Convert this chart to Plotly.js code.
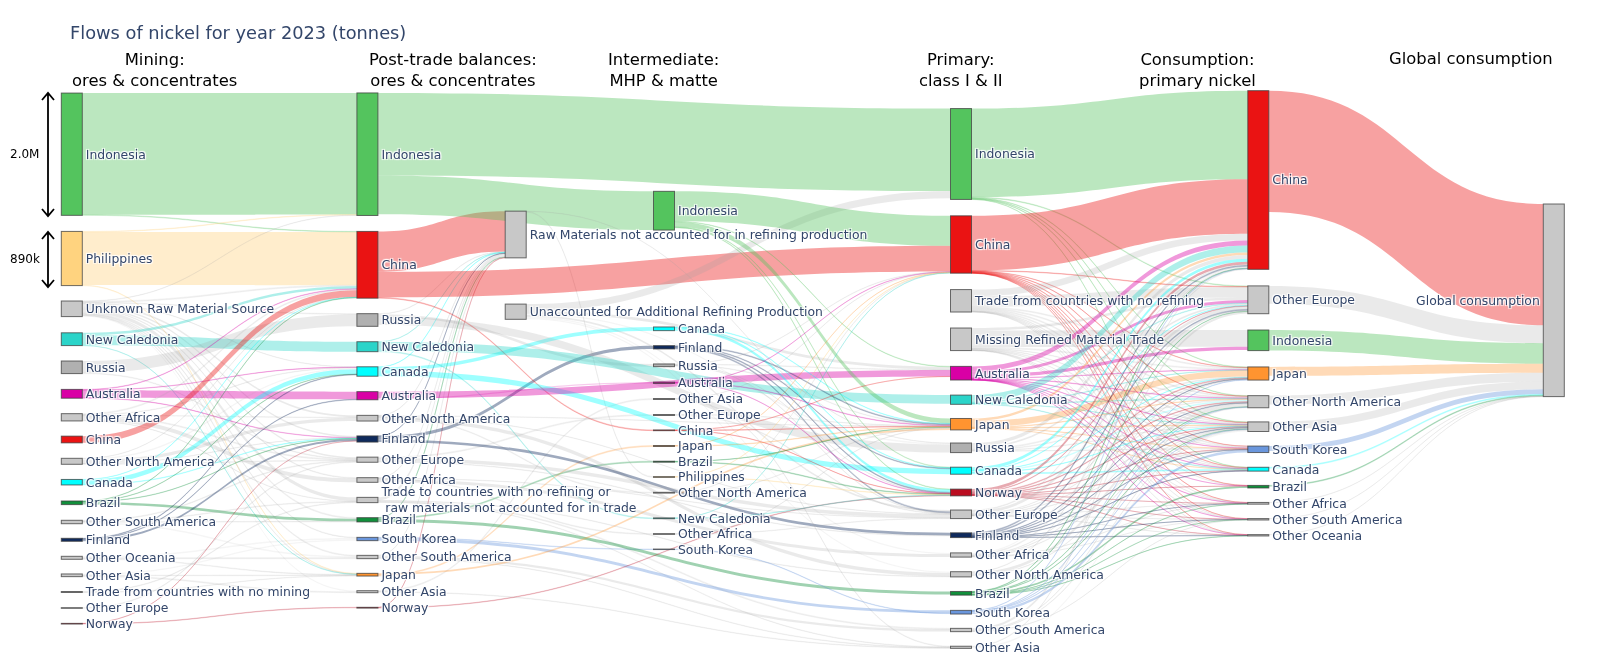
<!DOCTYPE html>
<html><head><meta charset="utf-8">
<script src="https://cdn.plot.ly/plotly-3.0.1.min.js"></script>
<style>html,body{margin:0;padding:0;background:#fff}#chart{width:1600px;height:670px;filter:blur(0.5px)}</style>
</head><body><div id="chart"></div>
<script>
const OA='Other Africa',OAs='Other Asia',OE='Other Europe',ONA='Other North America',OSA='Other South America',OO='Other Oceania';
const NC='New Caledonia',SK='South Korea',UNK='Unknown Raw Material Source',TN='Trade from countries with no mining';
const TT='Trade to countries with no refining or<br> raw materials not accounted for in trade';
const RM='Raw Materials not accounted for in refining production',UA='Unaccounted for Additional Refining Production';
const TF='Trade from countries with no refining',MR='Missing Refined Material Trade',GC='Global consumption';

// stage node labels
const miningLabels=['Indonesia','Philippines',UNK,NC,'Russia','Australia',OA,'China',ONA,'Canada','Brazil',OSA,'Finland',OO,OAs,TN,OE,'Norway'];
const postTradeLabels=['Indonesia','China','Russia',NC,'Canada','Australia',ONA,'Finland',OE,OA,TT,'Brazil',SK,OSA,'Japan',OAs,'Norway'];
const balanceLabels=[RM,UA];
const intermediateLabels=['Indonesia','Canada','Finland','Russia','Australia',OAs,OE,'China','Japan','Brazil','Philippines',ONA,NC,OA,SK];
const primaryLabels=['Indonesia','China',TF,MR,'Australia',NC,'Japan','Russia','Canada','Norway',OE,'Finland',OA,ONA,'Brazil',SK,OSA,OAs];
const consumptionLabels=['China',OE,'Indonesia','Japan',ONA,OAs,SK,'Canada','Brazil',OA,OSA,OO];
const globalLabels=[GC];

// vertical node centres (px of the 670 px page)
const miningY=[154.2,258.5,308.8,339.2,367.3,393.8,417.3,439.5,461.3,482.2,502.8,522,539.8,557.8,575.3,592,608,623.7];
const postTradeY=[154.2,264.8,320,346.7,371.5,395.7,418.2,439,459.7,480,500,519.8,539,557,574.7,591.7,607.7];
const balanceY=[234.5,311.7];
const intermediateY=[210.7,328.8,347.3,365.3,382.8,399,415,430.3,446,461.7,477,492.7,518.3,534,549.3];
const primaryY=[154,244.5,300.8,339.3,373.2,399.7,424.2,447.8,470.7,492.5,514.3,535.2,555,574.3,593.3,612.2,630,647.3];
const consumptionY=[180,299.8,340.3,373.5,401.7,426.7,449.3,469.2,486.7,503.3,519.3,535.3];
const globalY=[300.3];

// column centres (px of the 1600 px page)
const columnX={M:71.8,T:367.4,B:515.7,I:664,P:961,C:1258.3,G:1553.8};

// flows in thousand tonnes: [source, target, value]
const miningToPostTrade=[
['Indonesia','Indonesia',1990],['Indonesia','China',10],
['Philippines','China',870],['Philippines','Indonesia',8],['Philippines','Japan',8],
[UNK,'Indonesia',6],[UNK,'China',16],[UNK,TT,60],[UNK,OSA,15],[UNK,OAs,18],[UNK,OA,11],[UNK,ONA,30],[UNK,OE,25],[UNK,SK,10],[UNK,'Japan',6],[UNK,'Brazil',16],[UNK,'Russia',12],[UNK,'Finland',25],[UNK,'Canada',5],
[NC,NC,163],[NC,'China',41],[NC,'Japan',5],
['Russia','Russia',195],['Russia',OE,11],
['Australia','Australia',125],['Australia','China',8],['Australia','Canada',5],['Australia','Finland',6],
[OA,OA,65],[OA,OE,16],[OA,'China',16],[OA,ONA,8],[OA,TT,6],[OA,'Canada',8],
['China','China',110],
[ONA,ONA,55],[ONA,'Canada',24],[ONA,'China',5],[ONA,'Finland',5],[ONA,OE,9],
['Canada','Canada',77],['Canada','Finland',8],['Canada','China',5],
['Brazil','Brazil',44],['Brazil','Finland',5],['Brazil','Canada',5],['Brazil','China',5],
[OSA,OSA,24],[OSA,OE,12],[OSA,TT,10],[OSA,'Brazil',10],
['Finland','Finland',33],['Finland','Canada',8],['Finland','Australia',8],
[OO,SK,24],[OO,OSA,15],[OO,'Japan',10],
[OAs,OAs,15],[OAs,SK,20],[OAs,'Japan',9],
[TN,TT,10],[TN,'Japan',6],
[OE,OE,11],
['Norway','Norway',8],['Norway','Finland',3]
];
const postTradeToBalance=[
['China',RM,660],['Russia',RM,8],[NC,RM,6],['Canada',RM,6],['Brazil',RM,5],[OA,RM,8],[ONA,RM,8],[OSA,RM,5],['Finland',RM,3],[TT,RM,50],['Norway',RM,5]
];
const postTradeToIntermediate=[
['Indonesia','Indonesia',634],['Canada','Canada',60],['Finland','Finland',54],['Russia','Russia',44],['Australia','Australia',21],['China','China',12],[OE,OE,16],[OAs,OAs,16],['Japan','Japan',16],['Brazil','Brazil',16],[ONA,ONA,13],[NC,NC,13],[OA,OA,13],[SK,SK,8]
];
const balanceToIntermediate=[[RM,'Philippines',13]];
const postTradeToPrimary=[
['Indonesia','Indonesia',1350],['China','China',420],['Russia','Russia',130],[NC,NC,143],['Canada','Canada',88],['Australia','Australia',106],[ONA,ONA,57],[ONA,'Japan',5],[ONA,OE,5],['Finland','Finland',44],[OE,OE,57],[OE,'Finland',8],[OA,OA,49],[OA,OE,6],[TT,OSA,16],[TT,OAs,8],[TT,ONA,8],['Brazil','Brazil',49],[SK,SK,46],[OSA,OSA,37],[OSA,OAs,8],['Japan','Japan',28],[OAs,OAs,8],['Norway','Norway',8]
];
const balanceToPrimary=[
[RM,'Russia',5],[UA,'Indonesia',115],[UA,'Australia',42],[UA,OE,30],[UA,'Russia',22],[UA,OA,20],[UA,ONA,20]
];
const intermediateToPrimary=[
['Indonesia','China',490],['Indonesia','Japan',81],['Indonesia','Australia',8],['Indonesia','Norway',8],['Indonesia','Canada',8],
['Canada','Norway',44],['Canada','Canada',8],['Canada','Japan',8],
['Finland','Japan',13],['Finland','Canada',11],['Finland','Norway',13],['Finland',OE,16],
['Russia','China',6],['Russia','Japan',8],['Russia','Australia',8],['Russia',OE,8],['Russia','Norway',5],
['Australia','China',4],['Australia','Japan',8],['Australia','Norway',5],
[OAs,'China',3],[OAs,OAs,11],
[OE,OE,11],[OE,'Japan',5],
['China','Japan',5],['China','Australia',3],['China','Norway',4],
['Japan','China',4],['Japan','Japan',8],
['Brazil','Norway',11],['Brazil','Japan',5],
['Philippines','China',3],['Philippines','Norway',7],
[ONA,'China',3],[ONA,'Japan',7],
[NC,'China',3],[NC,'Norway',6],
[OA,'Japan',6],[OA,OE,7],
[SK,SK,8]
];
const primaryToConsumption=[
['Indonesia','China',1447],['Indonesia',OE,11],['Indonesia','Japan',8],['Indonesia',ONA,8],['Indonesia',OAs,8],['Indonesia','Canada',4],
['China','China',894],['China',OE,8],['China','Japan',5],['China',ONA,5],['China',OAs,8],['China',SK,4],['China','Canada',4],['China','Brazil',3],['China',OA,3],['China',OSA,3],['China',OO,1],
[TF,'China',109],[TF,OE,170],[TF,'Japan',16],[TF,ONA,16],[TF,OAs,16],[TF,SK,16],[TF,'Canada',8],[TF,'Brazil',5],[TF,OA,5],[TF,OSA,3],[TF,OO,3],
[MR,'Indonesia',272],[MR,OE,40],[MR,'Japan',16],[MR,ONA,8],[MR,OAs,8],[MR,SK,11],[MR,'Canada',5],[MR,OA,3],[MR,OSA,3],[MR,OO,3],
['Australia','China',81],['Australia','Indonesia',57],['Australia',OE,49],['Australia','Japan',5],['Australia',ONA,8],['Australia',OAs,6],['Australia',SK,5],['Australia','Canada',5],['Australia','Brazil',2],['Australia',OA,3],['Australia',OSA,1],['Australia',OO,1],
[NC,'China',115],[NC,OE,10],[NC,'Japan',5],[NC,ONA,8],[NC,OAs,5],[NC,'Canada',8],
['Japan','Japan',100],['Japan','China',41],['Japan',ONA,8],['Japan',OAs,8],['Japan','Canada',3],['Japan',SK,5],
['Russia','China',60],['Russia',OE,30],['Russia','Japan',16],['Russia',ONA,12],['Russia',OAs,10],['Russia',SK,6],
['Canada',ONA,24],['Canada','China',50],['Canada',OE,8],['Canada','Canada',16],['Canada','Japan',5],['Canada',OAs,6],
['Norway','China',47],['Norway',OE,8],['Norway','Japan',13],['Norway',ONA,10],['Norway',OAs,8],['Norway',SK,5],['Norway','Canada',5],['Norway','Brazil',2],['Norway',OA,3],['Norway',OSA,2],['Norway',OO,3],
[OE,OE,49],[OE,'China',13],[OE,'Japan',5],[OE,ONA,8],[OE,OAs,8],[OE,OA,3],[OE,SK,5],[OE,OSA,3],[OE,OO,3],
['Finland','China',16],['Finland',OE,16],['Finland','Japan',8],['Finland',ONA,8],['Finland',OAs,8],['Finland',SK,8],['Finland','Canada',5],['Finland',OO,5],['Finland',OSA,2],['Finland',OA,2],
[OA,'China',21],[OA,OE,16],[OA,OA,3],[OA,OAs,8],[OA,'Japan',8],[OA,ONA,8],[OA,OSA,1],
[ONA,ONA,49],[ONA,'China',8],[ONA,OAs,8],
['Brazil','Brazil',30],['Brazil','China',6],['Brazil',OE,5],['Brazil',ONA,6],['Brazil',OAs,5],['Brazil',OO,3],['Brazil',OSA,2],['Brazil',OA,3],
[SK,SK,41],[SK,OAs,5],[SK,'China',5],[SK,'Japan',5],[SK,ONA,4],
[OSA,OSA,3],[OSA,ONA,8],[OSA,OAs,8],[OSA,OE,35],
[OAs,OAs,24],[OAs,'China',9]
];
const consumptionToGlobal=[
['China',GC,1984],[OE,GC,293],['Indonesia',GC,337],['Japan',GC,146],[ONA,GC,146],[OAs,GC,125],[SK,GC,81],['Canada',GC,15],['Brazil',GC,13],[OA,GC,5],[OSA,GC,3],[OO,GC,2]
];

// colours
const nodeColors={Indonesia:'#54c45e',Philippines:'#ffd37f',China:'#ea1313',[NC]:'#2bd4c9',Russia:'#b0b0b0',Australia:'#d900a5',Canada:'#00ffff',Brazil:'#118f3b',Finland:'#0f2a5c',[SK]:'#6a96dc',Japan:'#ff9430',Norway:'#ba0c20'};
const linkRgb={Indonesia:[84,196,94,0.4],Philippines:[255,211,127,0.4],China:[234,19,19,0.4],[NC]:[43,212,201,0.38],Australia:[217,0,165,0.4],Canada:[0,255,255,0.38],Brazil:[17,143,59,0.4],Finland:[15,42,92,0.4],[SK]:[106,150,220,0.4],Japan:[255,148,48,0.35],Norway:[186,12,32,0.35]};
const greyNode='#c8c8c8',greyRgb=[160,160,160,0.22];
const thinLinkBelow=25,thinLinkFade=0.5;

const W=1600,H=670;
const stages=[['M',miningLabels,miningY],['T',postTradeLabels,postTradeY],['B',balanceLabels,balanceY],['I',intermediateLabels,intermediateY],['P',primaryLabels,primaryY],['C',consumptionLabels,consumptionY],['G',globalLabels,globalY]];
const idx={},nodeLabel=[],nodeX=[],nodeY=[],nodeColor=[];
stages.forEach(([s,labels,ys])=>labels.forEach((l,i)=>{idx[s+'|'+l]=nodeLabel.length;nodeLabel.push(l);nodeX.push(columnX[s]/W);nodeY.push(ys[i]/H);nodeColor.push(nodeColors[l]||greyNode);}));
const src=[],tgt=[],val=[],col=[];
function addLinks(list,a,b){list.forEach(([s,t,v])=>{src.push(idx[a+'|'+s]);tgt.push(idx[b+'|'+t]);val.push(v*1000);const c=linkRgb[s]||greyRgb;const al=v<thinLinkBelow?c[3]*thinLinkFade:c[3];col.push(`rgba(${c[0]},${c[1]},${c[2]},${al})`);});}
addLinks(miningToPostTrade,'M','T');addLinks(postTradeToBalance,'T','B');addLinks(postTradeToIntermediate,'T','I');addLinks(balanceToIntermediate,'B','I');addLinks(postTradeToPrimary,'T','P');addLinks(balanceToPrimary,'B','P');addLinks(intermediateToPrimary,'I','P');addLinks(primaryToConsumption,'P','C');addLinks(consumptionToGlobal,'C','G');

const FONT='"DejaVu Sans", Verdana, sans-serif';
const headers=[['Mining:<br>ores & concentrates',154.5,70],['Post-trade balances:<br>ores & concentrates',453,70],['Intermediate:<br>MHP & matte',663,70],['Primary:<br>class I & II',961,70],['Consumption:<br>primary nickel',1197,70],['Global consumption',1471,59]];
const scaleNotes=[['2.0M',24.5,154],['890k',24.5,259]];
const arrows=[[93,216],[232,287]];
const ax=48;
function px(x){return x/W} function py(y){return 1-y/H}
const shapes=arrows.map(([a,b])=>({type:'path',xref:'paper',yref:'paper',line:{color:'#000',width:1.8},
 path:`M ${px(ax)} ${py(a)} L ${px(ax)} ${py(b)} M ${px(ax-6)} ${py(a+7)} L ${px(ax)} ${py(a)} L ${px(ax+6)} ${py(a+7)} M ${px(ax-6)} ${py(b-7)} L ${px(ax)} ${py(b)} L ${px(ax+6)} ${py(b-7)}`}));
const annotations=headers.map(([t,x,y])=>({text:t,x:px(x),y:py(y),xref:'paper',yref:'paper',showarrow:false,xanchor:'center',yanchor:'middle',font:{family:FONT,size:16.4,color:'#000'}}))
 .concat(scaleNotes.map(([t,x,y])=>({text:t,x:px(x),y:py(y),xref:'paper',yref:'paper',showarrow:false,xanchor:'center',yanchor:'middle',font:{family:FONT,size:12,color:'#000'}})));

Plotly.newPlot('chart',[{type:'sankey',arrangement:'fixed',orientation:'h',valueformat:'.3s',
 domain:{x:[0,1],y:[0,1]},textfont:{family:FONT,size:12.4,color:'#33466a'},
 node:{label:nodeLabel,x:nodeX,y:nodeY,color:nodeColor,pad:17,thickness:21,line:{color:'rgba(60,60,60,0.75)',width:1}},
 link:{source:src,target:tgt,value:val,color:col}
}],{width:W,height:H,margin:{l:0,r:0,t:0,b:0,pad:0},paper_bgcolor:'#fff',font:{family:FONT,color:'#2a3f5f'},
 title:{text:'Flows of nickel for year 2023 (tonnes)',x:70/W,xanchor:'left',y:1-33/H,yanchor:'middle',font:{family:FONT,size:17.8,color:'#33466a'}},
 shapes,annotations},{displayModeBar:false});
</script></body></html>
